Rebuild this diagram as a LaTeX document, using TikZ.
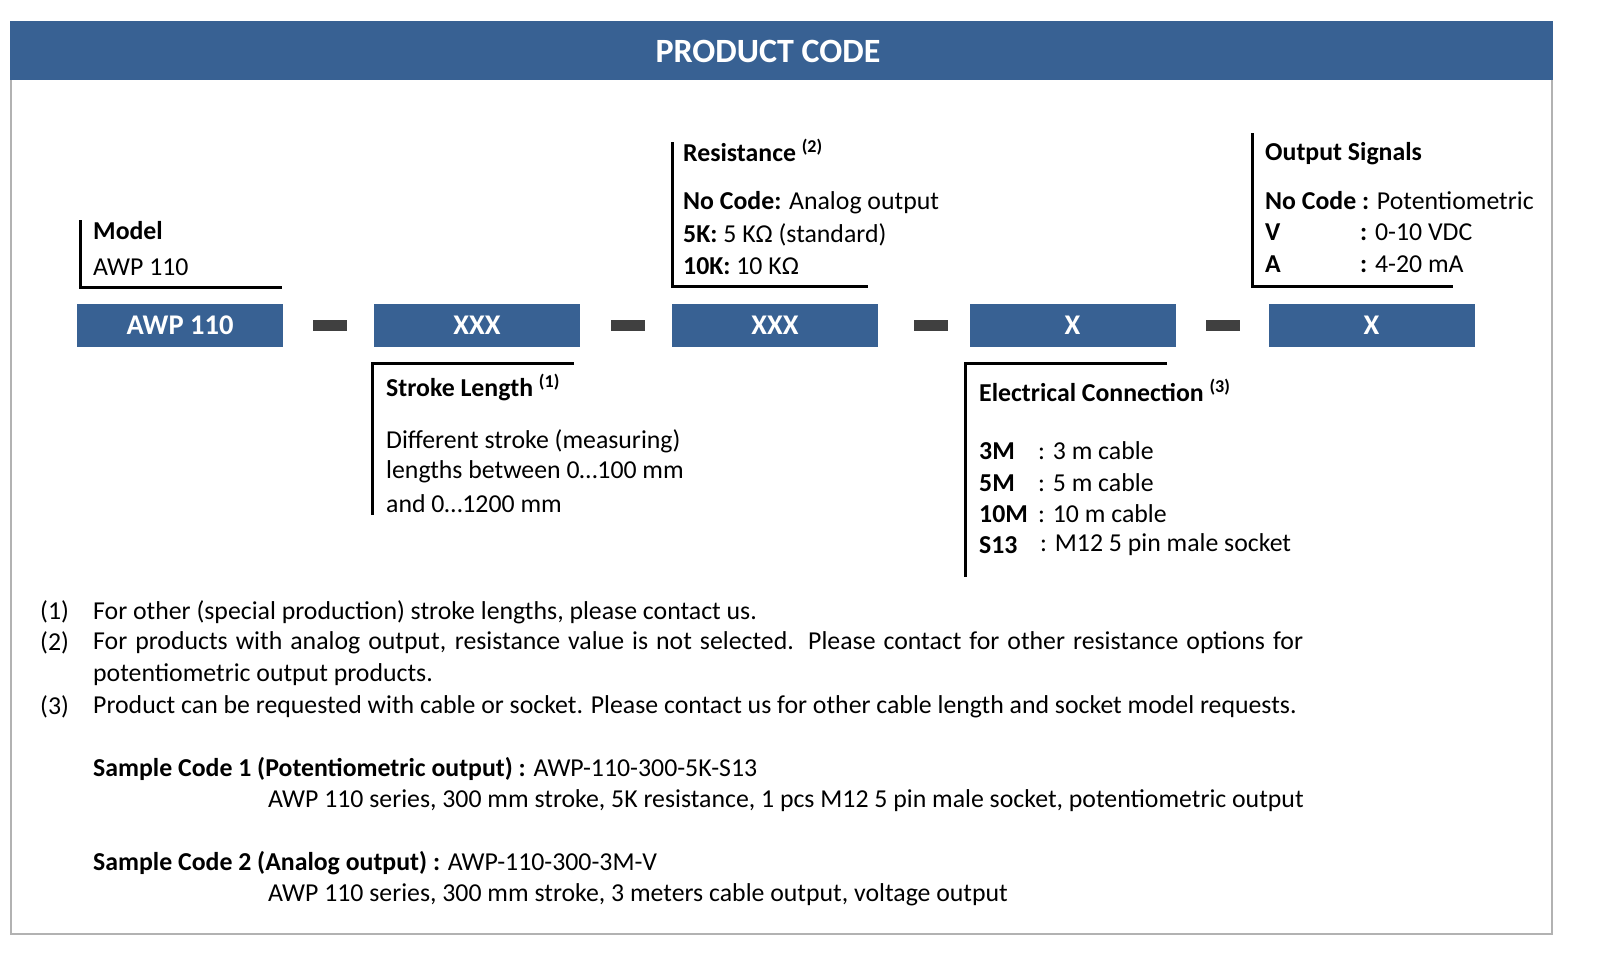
\documentclass[tikz,border=0pt]{standalone}
\usepackage{fontspec}
\setmainfont{Carlito}
\definecolor{hb}{HTML}{386193}
\definecolor{dg}{HTML}{404040}
\begin{document}
\begin{tikzpicture}[x=1pt,y=-1pt,
 t/.style={anchor=west,inner sep=0pt,font=\fontsize{25.8}{30}\selectfont},
 cbox/.style={fill=hb,text=white,minimum width=206pt,minimum height=43pt,inner sep=0pt,font=\fontsize{28.5}{32}\selectfont\bfseries},
 dsh/.style={fill=dg,minimum width=34pt,minimum height=11pt,inner sep=0pt},
 br/.style={line width=3pt,black}]
\useasboundingbox (0,0) rectangle (1610,974);
\draw[gray!60,line width=1.5pt] (11,22) rectangle (1552,934);
\fill[hb] (10,21) rectangle (1553,80);
\node[text=white,font=\fontsize{34}{38}\selectfont\bfseries] (title) at (768,51) {PRODUCT CODE};
% boxes
\node[cbox] (b1) at (180,325.5) {AWP 110};
\node[cbox] (b2) at (477,325.5) {XXX};
\node[cbox] (b3) at (775,325.5) {XXX};
\node[cbox] (b4) at (1072.5,325.5) {X};
\node[cbox] (b5) at (1371.5,325.5) {X};
\node[dsh] (d1) at (330,325.5) {};
\node[dsh] (d2) at (627.5,325.5) {};
\node[dsh] (d3) at (931,325.5) {};
\node[dsh] (d4) at (1223,325.5) {};
% brackets
\draw[br] (80,220) -- (80,287) -- (282,287);
\draw[br] (672,142) -- (672,286) -- (868,286);
\draw[br] (1252,133) -- (1252,286) -- (1453,286);
\draw[br] (574,363) -- (372,363) -- (372,515);
\draw[br] (1167,363) -- (965,363) -- (965,577);
% Model
\node[t] (m1) at (93,231) {\bfseries Model};
\node[t] (m2) at (93,267) {AWP 110};
% Resistance
\node[t] (r1) at (683,150) {\textbf{Resistance} \textsuperscript{\bfseries(2)}};
\node[t] (r2) at (683,203) {\textbf{No Code:} Analog output};
\node[t] (r3) at (683,235) {\textbf{5K:} 5 KΩ (standard)};
\node[t] (r4) at (683,266) {\textbf{10K:} 10 KΩ};
% Output
\node[t] (o1) at (1265,154) {\bfseries Output Signals};
\node[t] (o2) at (1265,201) {\textbf{No Code :} Potentiometric};
\node[t] (o3) at (1265,232) {\bfseries V};
\node[t] (o3b) at (1360,232) {\textbf{:} 0-10 VDC};
\node[t] (o4) at (1265,264) {\bfseries A};
\node[t] (o4b) at (1360,264) {\textbf{:} 4-20 mA};
% Stroke
\node[t] (s1) at (386,387) {\textbf{Stroke Length} \textsuperscript{\bfseries(1)}};
\node[t] (s2) at (386,441) {Different stroke (measuring)};
\node[t] (s3) at (386,472) {lengths between 0…100 mm};
\node[t] (s4) at (386,504) {and 0…1200 mm};
% Electrical
\node[t] (e1) at (979,390) {\textbf{Electrical Connection} \textsuperscript{\bfseries(3)}};
\node[t] (e2) at (979,451) {\bfseries 3M};
\node[t] (e3) at (979,483) {\bfseries 5M};
\node[t] (e4) at (979,514) {\bfseries 10M};
\node[t] (e5) at (979,545) {\bfseries S13};
\node[t] (e2b) at (1038,451) {: 3 m cable};
\node[t] (e3b) at (1038,483) {: 5 m cable};
\node[t] (e4b) at (1038,514) {: 10 m cable};
\node[t] (e5b) at (1040,545) {: M12 5 pin male socket};
% footnotes
\node[t] (f1) at (40,612) {(1)};
\node[t] (f2) at (40,643) {(2)};
\node[t] (f3) at (40,707) {(3)};
\node[t] (g1) at (93,612) {For other (special production) stroke lengths, please contact us.};
\node[t,text width=1210pt,align=justify] (g2) at (93,643) {\parfillskip=0pt For products with analog output, resistance value is not selected. Please contact for other resistance options for\par};
\node[t] (g2b) at (93,675) {potentiometric output products.};
\node[t] (g3) at (93,707) {Product can be requested with cable or socket. Please contact us for other cable length and socket model requests.};
\node[t] (p1) at (93,769) {\textbf{Sample Code 1 (Potentiometric output) :} AWP-110-300-5K-S13};
\node[t] (p2) at (268,801) {AWP 110 series, 300 mm stroke, 5K resistance, 1 pcs M12 5 pin male socket, potentiometric output};
\node[t] (p3) at (93,863) {\textbf{Sample Code 2 (Analog output) :} AWP-110-300-3M-V};
\node[t] (p4) at (268,895) {AWP 110 series, 300 mm stroke, 3 meters cable output, voltage output};
\end{tikzpicture}
\end{document}
